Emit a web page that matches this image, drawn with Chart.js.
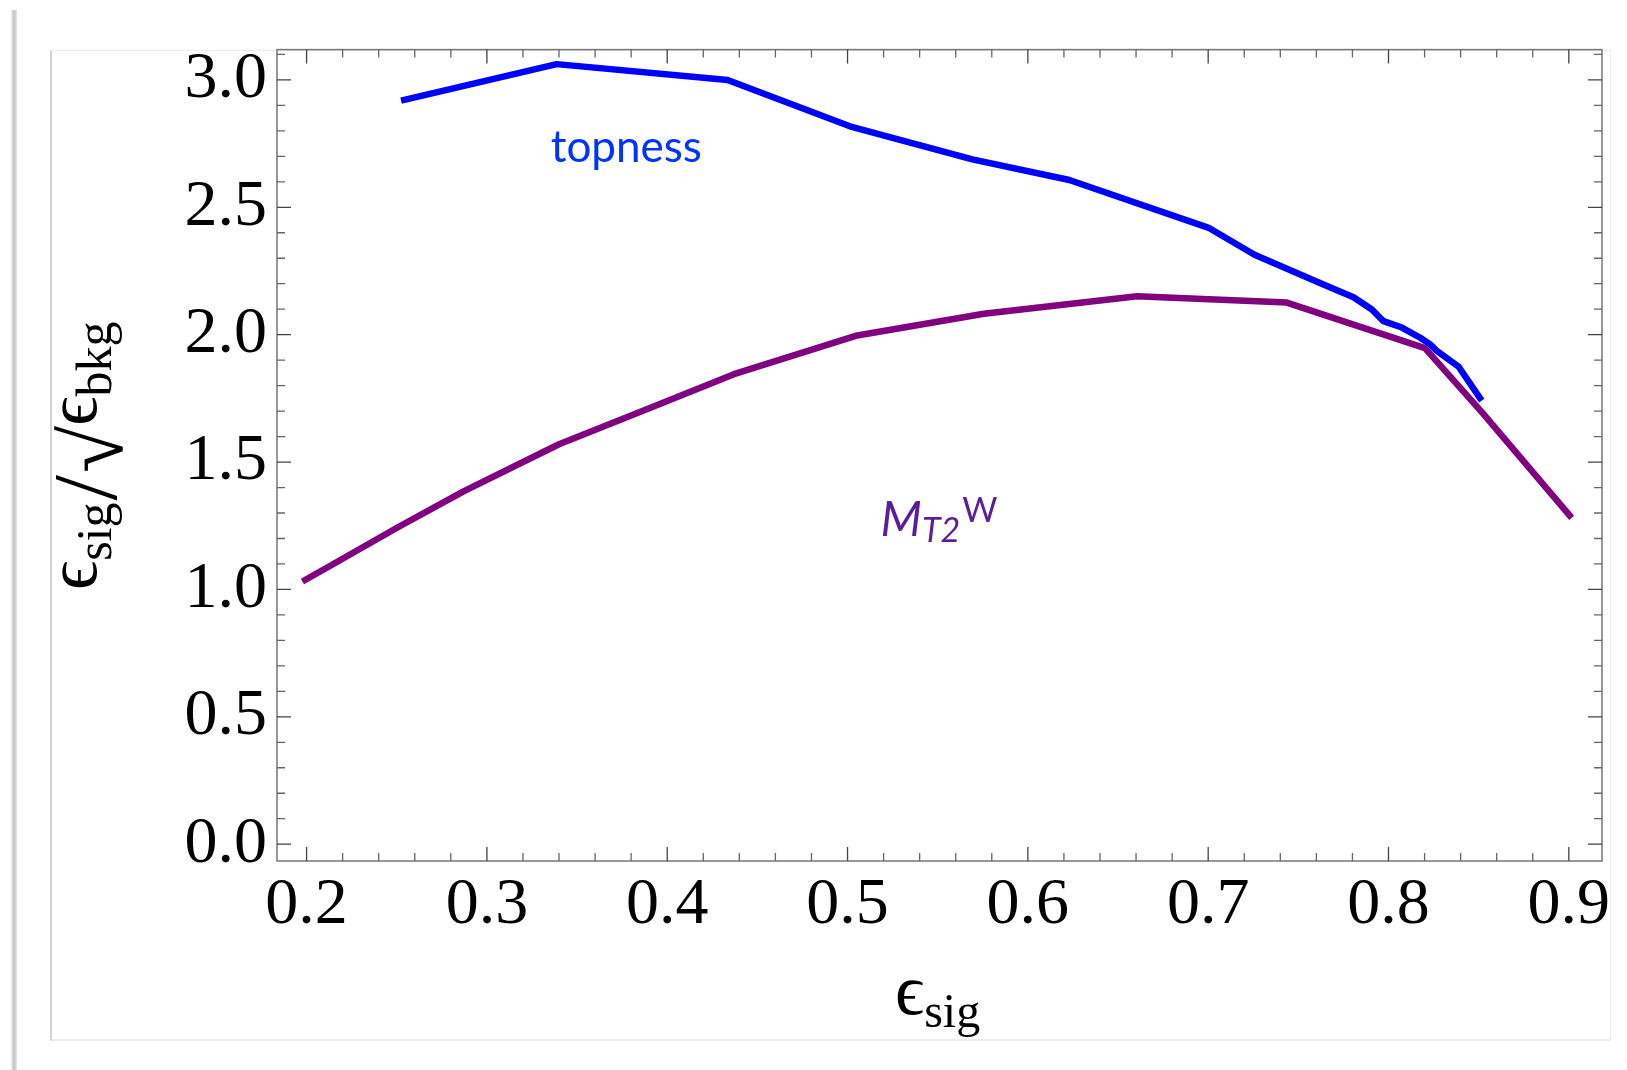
<!DOCTYPE html>
<html>
<head>
<meta charset="utf-8">
<script src="https://cdn.jsdelivr.net/npm/chart.js@4.4.1/dist/chart.umd.min.js"></script>
<style>
html, body { margin: 0; padding: 0; background: #fff; }
#wrap { position: relative; width: 1627px; height: 1070px; overflow: hidden; background: #fff; }
#shadow { position: absolute; left: 11px; top: 10px; width: 6px; height: 1060px;
          background: linear-gradient(to right, #f2f2f2, #c2c2c2 50%, #e8e8e8); }
#panel { position: absolute; left: 50px; top: 50px; width: 1558px; height: 988px;
         border: 1px solid #ececec; border-left: 2px solid #d2d2d2; border-bottom: 2px solid #ececec; }
canvas { position: absolute; left: 0; top: 0; }
</style>
</head>
<body>
<div id="wrap">
  <div id="shadow"></div>
  <div id="panel"></div>
  <canvas id="chart" width="1627" height="1070"></canvas>
</div>
<script>
// topness curve
const TOPNESS_X = [0.2524, 0.3387, 0.4335, 0.5013, 0.5692, 0.6230, 0.7007, 0.7257, 0.7639,
                   0.7806, 0.7908, 0.7972, 0.8074, 0.8176, 0.8231, 0.8268, 0.8388, 0.8517];
const TOPNESS_Y = [2.919, 3.062, 3.000, 2.818, 2.688, 2.607, 2.418, 2.314, 2.197,
                   2.147, 2.099, 2.053, 2.028, 1.988, 1.962, 1.936, 1.875, 1.741];

// MT2W curve
const MT2W_X = [0.1977, 0.2134, 0.2504, 0.2873, 0.3400, 0.3890, 0.4370, 0.5054, 0.5756,
                0.6606, 0.7436, 0.8202, 0.8526, 0.9016];
const MT2W_Y = [1.031, 1.094, 1.243, 1.386, 1.570, 1.708, 1.845, 1.997, 2.082,
                2.151, 2.126, 1.947, 1.689, 1.281];

const X_TICKS = [0.2, 0.3, 0.4, 0.5, 0.6, 0.7, 0.8, 0.9];
const Y_TICKS = [0.0, 0.5, 1.0, 1.5, 2.0, 2.5, 3.0];

const X_MIN = 0.1836, X_MAX = 0.9184;
const Y_MIN = -0.066, Y_MAX = 3.119;

const SERIF = '"Liberation Serif", "Times New Roman", "DejaVu Serif", serif';
const SANS = 'Lato, "Open Sans", sans-serif';

function pts(xs, ys) {
    return xs.map((x, i) => ({ x, y: ys[i] }));
}

/* ── frame + inward ticks on all four sides ─────────────── */
const framePlugin = {
    id: 'frame',
    afterDatasetsDraw(chart) {
        const { ctx, chartArea: a, scales: { x, y } } = chart;
        ctx.save();
        ctx.strokeStyle = '#777';
        ctx.lineWidth = 1.5;
        ctx.strokeRect(a.left, a.top, a.right - a.left, a.bottom - a.top);

        const MAJ = 14, MIN = 8;
        ctx.lineWidth = 1.3;
        // x ticks
        for (let i = 0; i <= 40; i++) {
            const v = 0.18 + i * 0.02;
            if (v < X_MIN || v > X_MAX) continue;
            const major = X_TICKS.some(t => Math.abs(t - v) < 1e-6);
            const px = x.getPixelForValue(v);
            const len = major ? MAJ : MIN;
            ctx.strokeStyle = major ? '#444' : '#666';
            ctx.beginPath();
            ctx.moveTo(px, a.bottom); ctx.lineTo(px, a.bottom - len);
            ctx.moveTo(px, a.top); ctx.lineTo(px, a.top + len);
            ctx.stroke();
        }
        // y ticks
        for (let i = 0; i <= 32; i++) {
            const v = i * 0.1;
            if (v < Y_MIN || v > Y_MAX) continue;
            const major = Y_TICKS.some(t => Math.abs(t - v) < 1e-6);
            const py = y.getPixelForValue(v);
            const len = major ? MAJ : MIN;
            ctx.strokeStyle = major ? '#444' : '#666';
            ctx.beginPath();
            ctx.moveTo(a.left, py); ctx.lineTo(a.left + len, py);
            ctx.moveTo(a.right, py); ctx.lineTo(a.right - len, py);
            ctx.stroke();
        }
        ctx.restore();
    }
};

/* ── axis titles and curve labels ───────────────────────── */
function runs(ctx, parts, x0, y0) {
    let cx = x0;
    parts.forEach(p => {
        ctx.font = p.f;
        ctx.fillText(p.t, cx + (p.dx || 0), y0 + (p.dy || 0));
        cx += ctx.measureText(p.t).width + (p.dx || 0) + (p.gap || 0);
    });
}

const textPlugin = {
    id: 'texts',
    afterDraw(chart) {
        const { ctx, scales: { x, y } } = chart;
        ctx.save();
        ctx.textBaseline = 'alphabetic';
        ctx.textAlign = 'left';

        // x title
        ctx.fillStyle = '#000';
        runs(ctx, [
            { t: '\u03F5', f: `72px ${SERIF}` },
            { t: 'sig', f: `48px ${SERIF}`, dy: 13 }
        ], 895, 1014);

        // y title (rotated)
        ctx.save();
        ctx.translate(96, 590);
        ctx.rotate(-Math.PI / 2);
        runs(ctx, [
            { t: '\u03F5', f: `72px ${SERIF}` },
            { t: 'sig', f: `50px ${SERIF}`, dy: 15, gap: 2 },
            { t: '/', f: `92px ${SERIF}`, dy: 20, gap: 2 },
            { t: '\u221A', f: `86px ${SERIF}`, dy: 26 },
            { t: '\u03F5', f: `72px ${SERIF}` },
            { t: 'bkg', f: `50px ${SERIF}`, dy: 15 }
        ], 0, 0);
        ctx.restore();

        // curve labels
        ctx.fillStyle = '#0033ff';
        ctx.font = `44px ${SANS}`;
        ctx.fillText('topness', x.getPixelForValue(0.3354), y.getPixelForValue(2.677));

        ctx.fillStyle = '#5a1e9c';
        const mx = x.getPixelForValue(0.5183), my = y.getPixelForValue(1.211);
        runs(ctx, [
            { t: 'M', f: `italic 48px ${SANS}` },
            { t: 'T2', f: `italic 34px ${SANS}`, dy: 6 },
            { t: 'W', f: `34px ${SANS}`, dy: -14, dx: 2 }
        ], mx, my);
        ctx.restore();
    }
};

new Chart(document.getElementById('chart'), {
    type: 'scatter',
    data: {
        datasets: [
            {
                label: 'topness',
                data: pts(TOPNESS_X, TOPNESS_Y),
                showLine: true,
                borderColor: '#0000ff',
                borderWidth: 6.5,
                pointRadius: 0,
                tension: 0,
                borderJoinStyle: 'round'
            },
            {
                label: 'MT2W',
                data: pts(MT2W_X, MT2W_Y),
                showLine: true,
                borderColor: '#800080',
                borderWidth: 6.5,
                pointRadius: 0,
                tension: 0,
                borderJoinStyle: 'round'
            }
        ]
    },
    options: {
        responsive: false,
        animation: false,
        devicePixelRatio: 1,
        layout: { padding: { left: 0, top: 45, right: 25, bottom: 0 } },
        plugins: {
            legend: { display: false },
            tooltip: { enabled: false }
        },
        scales: {
            x: {
                type: 'linear',
                min: X_MIN,
                max: X_MAX,
                grid: { display: false, drawTicks: false, tickLength: 0 },
                border: { display: false },
                ticks: {
                    color: '#000',
                    font: { family: SERIF, size: 66 },
                    padding: 5,
                    maxRotation: 0,
                    autoSkip: false,
                    callback: v => v.toFixed(1)
                },
                afterBuildTicks: s => { s.ticks = X_TICKS.map(v => ({ value: v })); },
                afterFit: s => { s.height = 209; }
            },
            y: {
                type: 'linear',
                min: Y_MIN,
                max: Y_MAX,
                grid: { display: false, drawTicks: false, tickLength: 0 },
                border: { display: false },
                ticks: {
                    color: '#000',
                    font: { family: SERIF, size: 66 },
                    padding: 10,
                    autoSkip: false,
                    callback: v => v.toFixed(1)
                },
                afterBuildTicks: s => { s.ticks = Y_TICKS.map(v => ({ value: v })); },
                afterFit: s => { s.width = 277; }
            }
        }
    },
    plugins: [framePlugin, textPlugin]
});
</script>
</body>
</html>
